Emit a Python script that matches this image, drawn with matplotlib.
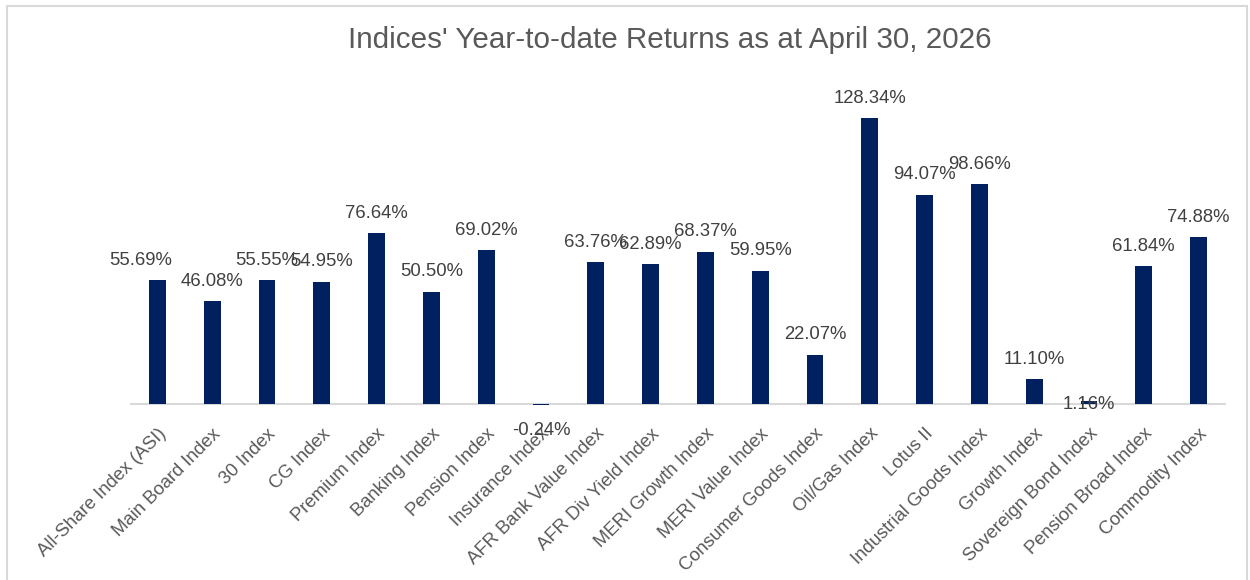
import matplotlib.pyplot as plt
import matplotlib.patches as patches
import numpy as np

plt.rcParams['font.family'] = ['Liberation Sans', 'DejaVu Sans']

# Daten
indices = ["All-Share Index (ASI)", "Main Board Index", "30 Index", "CG Index",
           "Premium Index", "Banking Index", "Pension Index", "Insurance Index",
           "AFR Bank Value Index", "AFR Div Yield Index", "MERI Growth Index",
           "MERI Value Index", "Consumer Goods Index", "Oil/Gas Index", "Lotus II",
           "Industrial Goods Index", "Growth Index", "Sovereign Bond Index",
           "Pension Broad Index", "Commodity Index"]
ytd_returns = [55.69, 46.08, 55.55, 54.95, 76.64, 50.50, 69.02, -0.24, 63.76, 62.89,
               68.37, 59.95, 22.07, 128.34, 94.07, 98.66, 11.10, 1.16, 61.84, 74.88]

title = "Indices' Year-to-date Returns as at April 30, 2026"

# Label-Versatz (Punkte, x/y) - Excel setzt ein paar Labels anders
label_offset = {"All-Share Index (ASI)": (-12, 14.4),
                "Insurance Index": (0, -19),
                "Sovereign Bond Index": (0, -2)}

W, H = 1250, 580
fig = plt.figure(figsize=(W / 100, H / 100), dpi=100)
ax = fig.add_axes([130 / W, (H - 408.5) / H, 1096 / W, 305 / H])

x = np.arange(len(indices))
ax.bar(x, ytd_returns, width=0.31, color='#002060', zorder=2)

for i, (name, v) in enumerate(zip(indices, ytd_returns)):
    off = label_offset.get(name, (0, 14.4))
    ax.annotate(f"{v:.2f}%", (i, max(v, 0)), xytext=off, textcoords='offset points',
                ha='center', va='center', fontsize=13.3, color='#404040', zorder=3)

ax.set_xlim(-0.5, len(indices) - 0.5)
ax.set_ylim(-2, 135)
ax.axhline(0, color='#D9D9D9', linewidth=1.5, zorder=1)

ax.set_xticks(x)
ax.set_xticklabels(indices, rotation=45, ha='right', rotation_mode='anchor',
                   fontsize=13.3, color='#595959')
ax.tick_params(axis='x', length=0, pad=12)
ax.set_yticks([])
for s in ax.spines.values():
    s.set_visible(False)

fig.text(670 / W, 1 - 40 / H, title, ha='center', va='center', fontsize=21.3, color='#595959')

# Rahmen um das Diagramm
fig.patches.append(patches.Rectangle((7 / W, -0.05), (W - 10) / W, 1 - 6 / H + 0.05,
                                     transform=fig.transFigure, fill=False,
                                     edgecolor='#D9D9D9', linewidth=1.5))

plt.savefig('out.png', dpi=100)
